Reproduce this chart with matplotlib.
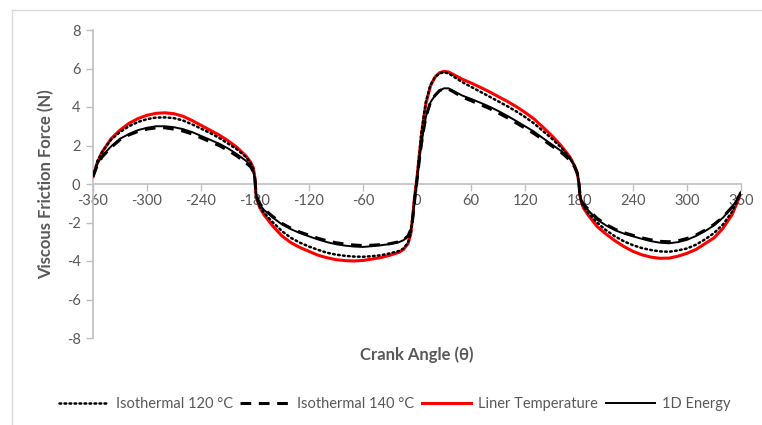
import matplotlib
matplotlib.use("Agg")
import matplotlib.pyplot as plt
from matplotlib.lines import Line2D

angles = [-360, -355, -350, -340, -330, -320, -310, -300, -290, -280, -270, -260, -250, -240, -230, -220,
          -210, -200, -190, -185, -182, -180, -179, -177, -175, -170, -160, -150, -140, -130, -120, -110,
          -100, -90, -80, -70, -60, -50, -40, -30, -20, -15, -10, -7, -5, -3, -1, 0, 1, 3, 5, 8, 10, 15,
          20, 25, 30, 35, 40, 50, 60, 70, 80, 90, 100, 110, 120, 130, 140, 150, 160, 165, 170, 175, 178,
          180, 181, 183, 185, 190, 200, 210, 220, 230, 240, 250, 260, 270, 280, 290, 300, 310, 320, 330,
          340, 350, 355, 360]

liner_temp = [0.36, 1.15, 1.65, 2.35, 2.8, 3.15, 3.4, 3.57, 3.67, 3.7, 3.65, 3.52, 3.3, 3.05, 2.8, 2.55,
              2.25, 1.9, 1.45, 1.15, 0.85, 0.3, -0.5, -0.9, -1.2, -1.6, -2.2, -2.7, -3.05, -3.3, -3.5, -3.7,
              -3.83, -3.93, -3.98, -4.0, -3.97, -3.9, -3.82, -3.7, -3.55, -3.4, -3.1, -2.6, -1.8, -0.8, 0.0,
              0.3, 0.8, 1.7, 2.6, 3.6, 4.2, 5.1, 5.55, 5.78, 5.85, 5.82, 5.7, 5.45, 5.25, 5.03, 4.8, 4.55,
              4.3, 4.03, 3.72, 3.38, 2.95, 2.5, 2.0, 1.7, 1.4, 0.95, 0.6, 0.0, -0.6, -1.0, -1.25, -1.6, -2.2,
              -2.6, -2.95, -3.25, -3.5, -3.68, -3.8, -3.86, -3.85, -3.75, -3.6, -3.4, -3.1, -2.8, -2.3, -1.6,
              -1.05, -0.45]

energy_1d = [0.4, 1.05, 1.45, 1.95, 2.35, 2.6, 2.8, 2.92, 3.0, 3.0, 2.95, 2.85, 2.7, 2.5, 2.3, 2.1,
             1.85, 1.55, 1.2, 0.95, 0.7, 0.2, -0.5, -0.85, -1.05, -1.35, -1.75, -2.1, -2.35, -2.55, -2.72,
             -2.88, -3.02, -3.13, -3.2, -3.25, -3.27, -3.23, -3.18, -3.12, -3.02, -2.92, -2.72, -2.4, -1.9,
             -1.0, -0.2, 0.2, 0.6, 1.4, 2.1, 3.0, 3.5, 4.25, 4.6, 4.85, 4.97, 4.97, 4.85, 4.6, 4.42, 4.23,
             4.03, 3.8, 3.55, 3.28, 3.0, 2.72, 2.38, 2.05, 1.72, 1.55, 1.3, 0.95, 0.6, 0.0, -0.55, -0.95,
             -1.1, -1.35, -1.85, -2.15, -2.4, -2.58, -2.72, -2.85, -2.97, -3.05, -3.08, -3.02, -2.9, -2.7,
             -2.45, -2.15, -1.75, -1.2, -0.85, -0.45]

iso_120 = [0.4, 1.2, 1.65, 2.3, 2.7, 3.0, 3.22, 3.37, 3.45, 3.46, 3.42, 3.3, 3.1, 2.88, 2.65, 2.4,
           2.1, 1.8, 1.4, 1.1, 0.8, 0.25, -0.5, -0.9, -1.15, -1.5, -2.0, -2.45, -2.8, -3.05, -3.25, -3.42,
           -3.57, -3.67, -3.73, -3.77, -3.78, -3.75, -3.7, -3.6, -3.48, -3.35, -3.05, -2.6, -1.9, -0.9,
           -0.05, 0.3, 0.8, 1.75, 2.7, 3.7, 4.3, 5.15, 5.55, 5.75, 5.8, 5.75, 5.6, 5.3, 5.05, 4.8, 4.55,
           4.3, 4.05, 3.78, 3.48, 3.15, 2.75, 2.35, 1.9, 1.65, 1.35, 0.95, 0.6, 0.0, -0.6, -1.0, -1.2, -1.5,
           -2.0, -2.4, -2.72, -2.98, -3.18, -3.33, -3.43, -3.5, -3.52, -3.45, -3.35, -3.15, -2.88, -2.55,
           -2.1, -1.45, -0.95, -0.45]

iso_140 = [0.4, 1.0, 1.4, 1.9, 2.3, 2.55, 2.73, 2.85, 2.92, 2.92, 2.85, 2.75, 2.6, 2.4, 2.2, 2.0,
           1.75, 1.45, 1.1, 0.9, 0.65, 0.2, -0.45, -0.8, -1.0, -1.3, -1.7, -2.05, -2.3, -2.5, -2.66, -2.82,
           -2.95, -3.05, -3.12, -3.17, -3.2, -3.18, -3.15, -3.1, -3.0, -2.9, -2.7, -2.38, -1.88, -1.0,
           -0.2, 0.2, 0.6, 1.4, 2.1, 3.0, 3.5, 4.25, 4.6, 4.85, 4.95, 4.93, 4.8, 4.52, 4.33, 4.13, 3.93,
           3.7, 3.45, 3.18, 2.9, 2.62, 2.3, 1.97, 1.65, 1.45, 1.22, 0.9, 0.55, 0.0, -0.5, -0.9, -1.05, -1.3,
           -1.78, -2.1, -2.35, -2.53, -2.67, -2.8, -2.9, -2.98, -3.0, -2.95, -2.83, -2.65, -2.4, -2.1, -1.72,
           -1.2, -0.85, -0.45]

x_ticks = [-360, -300, -240, -180, -120, -60, 0, 60, 120, 180, 240, 300, 360]
y_ticks = [-8, -6, -4, -2, 0, 2, 4, 6, 8]

plt.rcParams['font.family'] = ['Lato', 'DejaVu Sans']
plt.rcParams['axes.unicode_minus'] = False
gray = '#595959'
axis_gray = '#bfbfbf'

fig = plt.figure(figsize=(7.62, 4.25), dpi=100)
ax = fig.add_axes([93/762, 1-338/425, (741-93)/762, (338-30)/425])

ax.plot(angles, iso_120, color='black', lw=1.8, linestyle=(0, (0.7, 1.3)), dash_capstyle='round',
        label='Isothermal 120 °C', zorder=3)
ax.plot(angles, iso_140, color='black', lw=2.2, linestyle=(0, (3.5, 2.5)), label='Isothermal 140 °C', zorder=3)
ax.plot(angles, liner_temp, color='#ff0000', lw=2.2, label='Liner Temperature', zorder=2)
ax.plot(angles, energy_1d, color='black', lw=1.4, label='1D Energy', zorder=4)

ax.set_xlim(-360, 360)
ax.set_ylim(-8, 8)
ax.set_xticks(x_ticks)
ax.set_yticks(y_ticks)
for s in ['top', 'right']:
    ax.spines[s].set_visible(False)
ax.spines['bottom'].set_position(('data', 0))
ax.spines['bottom'].set_color(axis_gray)
ax.spines['left'].set_color(axis_gray)
ax.spines['bottom'].set_linewidth(1.2)
ax.spines['left'].set_linewidth(1.2)
ax.tick_params(axis='both', colors=axis_gray, labelcolor=gray, labelsize=10.5, length=5, width=1.0)
ax.tick_params(axis='x', pad=2)
ax.tick_params(axis='y', pad=4)

fig.text(417/762, 1-355/425, 'Crank Angle (θ)', fontsize=12, fontweight='bold', color=gray,
         ha='center', va='center')
fig.text(46/762, 1-184/425, 'Viscous Friction Force (N)', fontsize=12, fontweight='bold', color=gray,
         ha='center', va='center', rotation=90)

handles, labels = ax.get_legend_handles_labels()
fig.legend(handles, labels, loc='center', bbox_to_anchor=(395/762, 1-404/425), ncol=4, frameon=False,
           fontsize=10.5, handlelength=3.4, columnspacing=0.5, handletextpad=0.5, labelcolor=gray)

# chart frame
fig.add_artist(Line2D([12/762, 1], [1-10/425, 1-10/425], color='#d9d9d9', lw=1.0, transform=fig.transFigure))
fig.add_artist(Line2D([12/762, 12/762], [1-10/425, 0], color='#d9d9d9', lw=1.0, transform=fig.transFigure))

fig.savefig('out.png', dpi=100)
